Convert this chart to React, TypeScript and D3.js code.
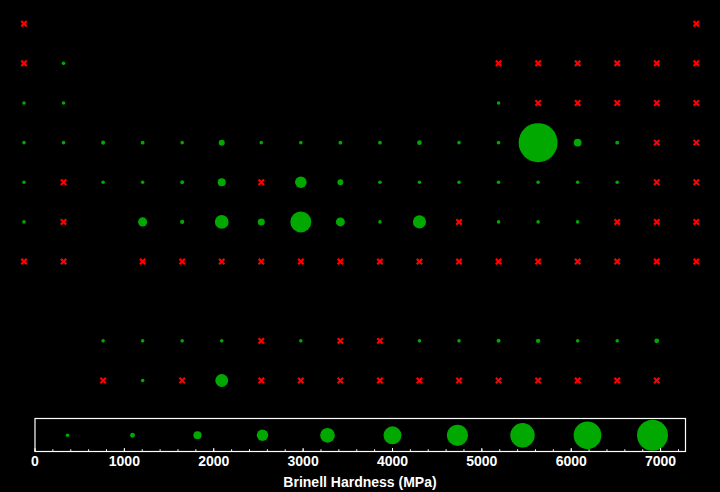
import React from "react";
import * as d3 from "d3";

// Element grid: symbol, group (column), row (period; 9 = lanthanides, 10 = actinides), Brinell hardness in MPa (null = no data)
const symbols = [
  "H", "He",
  "Li", "Be", "B", "C", "N", "O", "F", "Ne",
  "Na", "Mg", "Al", "Si", "P", "S", "Cl", "Ar",
  "K", "Ca", "Sc", "Ti", "V", "Cr", "Mn", "Fe", "Co", "Ni", "Cu", "Zn", "Ga", "Ge", "As", "Se", "Br", "Kr",
  "Rb", "Sr", "Y", "Zr", "Nb", "Mo", "Tc", "Ru", "Rh", "Pd", "Ag", "Cd", "In", "Sn", "Sb", "Te", "I", "Xe",
  "Cs", "Ba", "Hf", "Ta", "W", "Re", "Os", "Ir", "Pt", "Au", "Hg", "Tl", "Pb", "Bi", "Po", "At", "Rn",
  "Fr", "Ra", "Rf", "Db", "Sg", "Bh", "Hs", "Mt", "Ds", "Rg", "Cn", "Nh", "Fl", "Mc", "Lv", "Ts", "Og",
  "La", "Ce", "Pr", "Nd", "Pm", "Sm", "Eu", "Gd", "Tb", "Dy", "Ho", "Er", "Tm", "Yb", "Lu",
  "Ac", "Th", "Pa", "U", "Np", "Pu", "Am", "Cm", "Bk", "Cf", "Es", "Fm", "Md", "No", "Lr",
];

const groups = [
  1, 18,
  1, 2, 13, 14, 15, 16, 17, 18,
  1, 2, 13, 14, 15, 16, 17, 18,
  1, 2, 3, 4, 5, 6, 7, 8, 9, 10, 11, 12, 13, 14, 15, 16, 17, 18,
  1, 2, 3, 4, 5, 6, 7, 8, 9, 10, 11, 12, 13, 14, 15, 16, 17, 18,
  1, 2, 4, 5, 6, 7, 8, 9, 10, 11, 12, 13, 14, 15, 16, 17, 18,
  1, 2, 4, 5, 6, 7, 8, 9, 10, 11, 12, 13, 14, 15, 16, 17, 18,
  3, 4, 5, 6, 7, 8, 9, 10, 11, 12, 13, 14, 15, 16, 17,
  3, 4, 5, 6, 7, 8, 9, 10, 11, 12, 13, 14, 15, 16, 17,
];

const rowCounts = [2, 8, 8, 18, 18, 17, 17, 15, 15];
const rowIds = [1, 2, 3, 4, 5, 6, 7, 9, 10];

const hardness: (number | null)[] = [
  null, null,
  null, 600, null, null, null, null, null, null,
  0.69, 260, 245, null, null, null, null, null,
  0.363, 167, 750, 716, 628, 1120, 196, 490, 700, 700, 874, 412, 60, 7273, 1440, 736, null, null,
  0.216, null, 589, 650, 736, 1500, null, 2160, 1100, 37.3, 24.5, 203, 8.83, 51, 294, 180, null, null,
  0.14, null, 1700, 800, 2570, 1320, 3920, 1670, 392, 2450, null, 26.4, 38.3, 94.2, null, null, null,
  null, null, null, null, null, null, null, null, null, null, null, null, null, null, null, null, null,
  363, 412, 481, 265, null, 441, null, null, 677, 500, 746, 814, 471, 343, 893,
  null, 400, null, 2400, null, null, null, null, null, null, null, null, null, null, null,
];

const axisTitle = "Brinell Hardness (MPa)";
const legendSteps = 10;

const W = 720;
const H = 492;
const GREEN = "#00a800";
const RED = "#ff0000";

export default function App() {
  const rows: number[] = [];
  rowCounts.forEach((c, i) => {
    for (let k = 0; k < c; k++) rows.push(rowIds[i]);
  });

  const maxV = d3.max(hardness.filter((v): v is number => v != null)) as number;

  const xCol = d3.scaleLinear().domain([1, 18]).range([24, 696.3]);
  const yRow = d3.scaleLinear().domain([1, 10]).range([23.7, 380.5]);
  const rTable = d3.scaleLinear().domain([0, maxV]).range([0, 19.5]);
  const rLegend = d3.scaleLinear().domain([0, maxV]).range([0, 16.3]);
  const minR = 1.8;

  const xAxis = d3.scaleLinear().domain([0, maxV]).range([35, 685]);
  const majorTicks = xAxis.ticks(8);
  const minorTicks = d3.range(0, maxV, 200);

  const boxTop = 418.5;
  const boxBottom = 451.5;
  const legendY = 435.3;

  const legendVals = d3.range(legendSteps).map((i) => ((i + 0.5) * maxV) / legendSteps);

  const xMark = (cx: number, cy: number, key: string) => {
    const s = 2.7;
    return (
      <path
        key={key}
        d={`M${cx - s},${cy - s}L${cx + s},${cy + s}M${cx - s},${cy + s}L${cx + s},${cy - s}`}
        stroke={RED}
        strokeWidth={2.2}
        fill="none"
      />
    );
  };

  return (
    <svg
      width={W}
      height={H}
      style={{ position: "absolute", left: 0, top: 0, display: "block" }}
      fontFamily="'Liberation Sans', Arial, sans-serif"
    >
      <rect x={0} y={0} width={W} height={H} fill="#000" />
      {symbols.map((sym, i) => {
        const cx = xCol(groups[i]);
        const cy = yRow(rows[i]);
        const v = hardness[i];
        if (v == null) return xMark(cx, cy, sym);
        return <circle key={sym} cx={cx} cy={cy} r={Math.max(minR, rTable(v))} fill={GREEN} />;
      })}

      {/* legend bar */}
      <rect
        x={35}
        y={boxTop}
        width={xAxis(maxV) - 35 + 0.5}
        height={boxBottom - boxTop}
        fill="none"
        stroke="#fff"
        strokeWidth={1.2}
      />
      {legendVals.map((v, i) => (
        <circle key={"lg" + i} cx={xAxis(v)} cy={legendY} r={Math.max(minR, rLegend(v))} fill={GREEN} />
      ))}
      {minorTicks.map((t) => (
        <line key={"mt" + t} x1={xAxis(t)} x2={xAxis(t)} y1={boxBottom} y2={boxBottom - 2.2} stroke="#fff" strokeWidth={1} />
      ))}
      {majorTicks.map((t) => (
        <line key={"Mt" + t} x1={xAxis(t)} x2={xAxis(t)} y1={boxBottom} y2={boxBottom - 3.5} stroke="#fff" strokeWidth={1} />
      ))}
      {majorTicks.map((t) => (
        <text
          key={"tl" + t}
          x={xAxis(t)}
          y={466}
          textAnchor="middle"
          fill="#fff"
          fontSize={14}
          fontWeight="bold"
        >
          {t}
        </text>
      ))}
      <text x={360} y={486.5} textAnchor="middle" fill="#fff" fontSize={14} fontWeight="bold">
        {axisTitle}
      </text>
    </svg>
  );
}
